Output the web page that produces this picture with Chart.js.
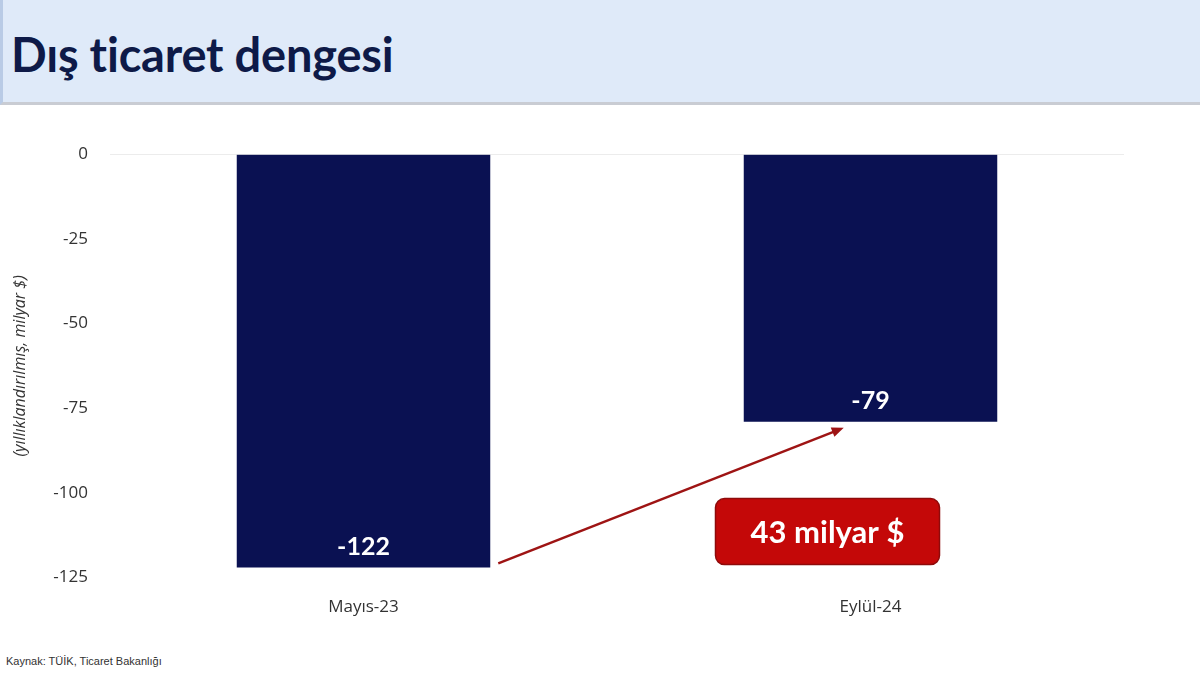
<!DOCTYPE html>
<html><head><meta charset="utf-8">
<script src="https://cdn.jsdelivr.net/npm/chart.js@4"></script>
<style>
html,body{margin:0;padding:0;width:1200px;height:675px;background:#fff;overflow:hidden;font-family:Lato,"Open Sans",sans-serif}
#hdr{position:absolute;left:0;top:0;width:1200px;height:105px;background:#dfeaf9;border-bottom:3px solid #c9ccd3;border-left:3px solid #b9cbe6;box-sizing:border-box}
#hdr h1{position:absolute;left:8px;top:26px;margin:0;font:bold 47px Lato,"Open Sans",sans-serif;color:#0e1a48;letter-spacing:-0.2px}
#wrap{position:absolute;left:0;top:122px;width:1200px;height:506px}
#src{position:absolute;left:6px;top:655px;font:11px "Liberation Sans",Arial,sans-serif;color:#333}
</style></head><body>
<div id="hdr"><h1>Dış ticaret dengesi</h1></div>
<div id="wrap"><canvas id="c"></canvas></div>
<div id="src">Kaynak: TÜİK, Ticaret Bakanlığı</div>
<script>
const categories = ["Mayıs-23", "Eylül-24"];
const balance = [-122, -79];
const yTicks = [0, -25, -50, -75, -100, -125];
const badgeText = "43 milyar $";
const axisTitle = "(yıllıklandırılmış, milyar $)";

const overlay = {
  id: 'overlay',
  afterDatasetsDraw(chart) {
    const ctx = chart.ctx;
    const meta = chart.getDatasetMeta(0);
    const y = chart.scales.y;
    ctx.save();
    ctx.fillStyle = '#ffffff';
    ctx.font = 'bold 25px Lato, "Open Sans", sans-serif';
    ctx.textAlign = 'center';
    ctx.textBaseline = 'middle';
    meta.data.forEach((b, i) => {
      ctx.fillText(String(balance[i]), b.x, y.getPixelForValue(balance[i]) - 21);
    });
    // arrow
    const b0 = meta.data[0], b1 = meta.data[1];
    const x0 = b0.x + b0.width / 2 + 8, y0 = y.getPixelForValue(balance[0]) - 4;
    const x1 = b1.x - b1.width / 2 + 100, y1 = y.getPixelForValue(balance[1]) + 6;
    ctx.strokeStyle = '#9e1414';
    ctx.fillStyle = '#9e1414';
    ctx.lineWidth = 2.5;
    const ang = Math.atan2(y1 - y0, x1 - x0);
    ctx.beginPath();
    ctx.moveTo(x0, y0);
    ctx.lineTo(x1 - 9 * Math.cos(ang), y1 - 9 * Math.sin(ang));
    ctx.stroke();
    ctx.beginPath();
    ctx.moveTo(x1, y1);
    ctx.lineTo(x1 - 12 * Math.cos(ang) + 5 * Math.sin(ang), y1 - 12 * Math.sin(ang) - 5 * Math.cos(ang));
    ctx.lineTo(x1 - 12 * Math.cos(ang) - 5 * Math.sin(ang), y1 - 12 * Math.sin(ang) + 5 * Math.cos(ang));
    ctx.closePath();
    ctx.fill();
    // badge
    const bw = 224, bh = 66;
    const bx = b1.x - 43 - bw / 2, by = y.getPixelForValue(-112) - 35;
    ctx.beginPath();
    ctx.roundRect(bx, by, bw, bh, 9);
    ctx.fillStyle = '#c40808';
    ctx.fill();
    ctx.lineWidth = 1.5;
    ctx.strokeStyle = '#8e0a0a';
    ctx.stroke();
    ctx.fillStyle = '#ffffff';
    ctx.font = 'bold 31px Lato, "Open Sans", sans-serif';
    ctx.fillText(badgeText, bx + bw / 2, by + bh / 2 + 1);
    ctx.restore();
  }
};

new Chart(document.getElementById('c'), {
  type: 'bar',
  data: {
    labels: categories,
    datasets: [{
      data: balance,
      backgroundColor: '#0a1152',
      borderWidth: 0,
      categoryPercentage: 1.0,
      barPercentage: 0.5
    }]
  },
  options: {
    responsive: true,
    maintainAspectRatio: false,
    animation: false,
    layout: { padding: { top: 17, right: 76, bottom: 0, left: 0 } },
    plugins: { legend: { display: false }, tooltip: { enabled: false } },
    scales: {
      x: {
        grid: { display: false },
        border: { display: false },
        ticks: { color: '#333', font: { size: 17, family: '"Open Sans", Lato, sans-serif' }, padding: 11 }
      },
      y: {
        min: -125, max: 0,
        afterFit(s) { s.width = 110; },
        afterBuildTicks(s) { s.ticks = yTicks.map(v => ({ value: v })); },
        grid: {
          drawTicks: false,
          color: ctx => ctx.tick && ctx.tick.value === 0 ? '#ececec' : 'rgba(0,0,0,0)'
        },
        border: { display: false },
        ticks: { color: '#333', font: { size: 17, family: '"Open Sans", Lato, sans-serif' }, padding: 22 },
        title: {
          display: true, text: axisTitle, color: '#333',
          font: { size: 16, style: 'italic', family: '"Open Sans", Lato, sans-serif' },
          padding: { top: 11, bottom: 0 }
        }
      }
    }
  },
  plugins: [overlay]
});
</script>
</body></html>
